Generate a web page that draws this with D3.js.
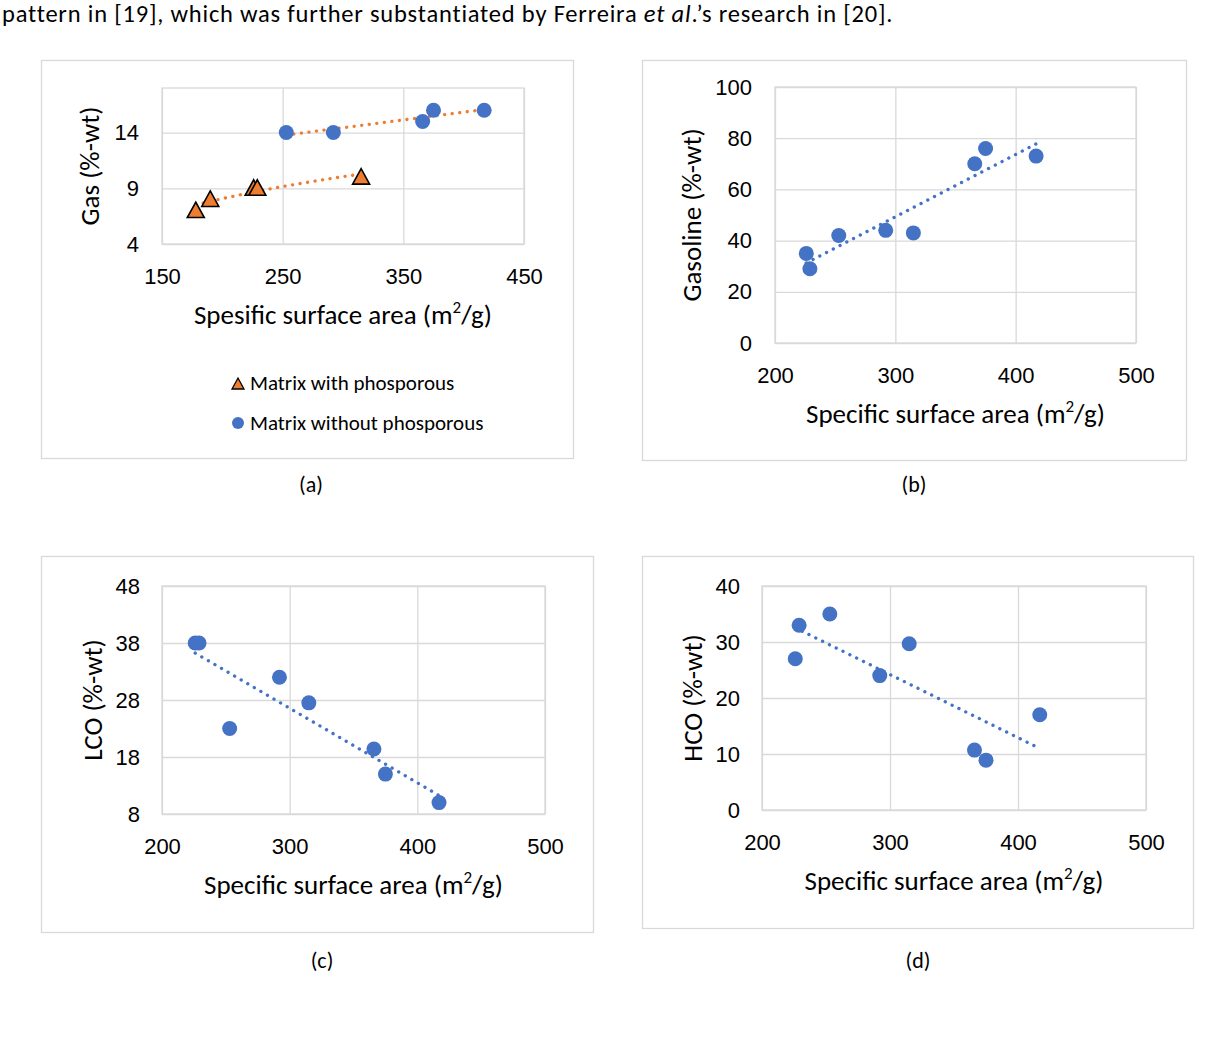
<!DOCTYPE html>
<html>
<head>
<meta charset="utf-8">
<script src="https://cdn.jsdelivr.net/npm/d3@7"></script>
<style>
  body { margin: 0; background: #fff; }
  svg { display: block; font-family: Carlito, Calibri, Lato, sans-serif; }
</style>
</head>
<body>
<svg id="chart" width="1225" height="1038"></svg>
<script>
// panel (a): gas yield, two catalyst matrices
var areaWithP = [178, 190, 226, 229, 315];
var gasWithP = [7, 8, 9, 9, 10];
var areaNoP = [253, 292, 366, 375, 417];
var gasNoP = [14, 14, 15, 16, 16];

// panels (b)-(d) share the surface area values
var area = [226, 229, 253, 292, 315, 366, 375, 417];
var gasoline = [35, 29, 42, 44, 43, 70, 76, 73];
var lco = [38, 38, 23, 32, 27.5, 19.4, 15, 10];
var hco = [27, 33, 35, 24, 29.7, 10.7, 8.9, 17];

// tick labels
var xTicksA = [150, 250, 350, 450];
var xTicks = [200, 300, 400, 500];
var gasTicks = [4, 9, 14];
var gasolineTicks = [0, 20, 40, 60, 80, 100];
var lcoTicks = [8, 18, 28, 38, 48];
var hcoTicks = [0, 10, 20, 30, 40];

var blue = "#4472C4", orange = "#ED7D31", grid = "#D9D9D9";

var svg = d3.select("#chart");
svg.append("rect").attr("width", 1225).attr("height", 1038).attr("fill", "#fff");

svg.append("text")
    .attr("x", 2)
    .attr("y", 22)
    .attr("font-size", 24.5)
    .attr("letter-spacing", 0.8)
    .attr("fill", "#000")
    .call(function(t) {
      t.append("tspan").text("pattern in [19], which was further substantiated by Ferreira ");
      t.append("tspan").attr("font-style", "italic").text("et al");
      t.append("tspan").text(".\u2019s research in [20].");
    });

// least squares, optional log transform of x (Excel-like trendlines)
function fit(xs, ys, isLog) {
  var tx = xs.map(function(v) { return isLog ? Math.log(v) : v; });
  var mx = d3.mean(tx), my = d3.mean(ys);
  var sxy = 0, sxx = 0;
  tx.forEach(function(v, i) { sxy += (v - mx) * (ys[i] - my); sxx += (v - mx) * (v - mx); });
  var b = sxy / sxx, a = my - b * mx;
  return function(v) { return a + b * (isLog ? Math.log(v) : v); };
}

function panel(p) {
  var g = svg.append("g");

  g.append("rect")
      .attr("x", p.frame[0] + 0.5).attr("y", p.frame[1] + 0.5)
      .attr("width", p.frame[2] - p.frame[0]).attr("height", p.frame[3] - p.frame[1])
      .attr("fill", "#fff").attr("stroke", grid).attr("stroke-width", 1.3);

  var x = d3.scaleLinear().domain(p.xDomain).range(p.xRange);
  var y = d3.scaleLinear().domain(p.yDomain).range(p.yRange);
  var w = p.xRange[1] - p.xRange[0], h = p.yRange[0] - p.yRange[1];

  // gridlines
  g.append("g")
      .attr("transform", "translate(0," + p.yRange[1] + ")")
      .call(d3.axisTop(x).tickValues(p.xTicks).tickSize(-h).tickFormat(""))
      .call(function(s) { s.select(".domain").remove(); s.selectAll("line").attr("stroke", grid).attr("stroke-width", 1.3); });
  g.append("g")
      .attr("transform", "translate(" + p.xRange[0] + ",0)")
      .call(d3.axisLeft(y).tickValues(p.yTicks).tickSize(-w).tickFormat(""))
      .call(function(s) { s.select(".domain").remove(); s.selectAll("line").attr("stroke", grid).attr("stroke-width", 1.3); });
  g.append("rect")
      .attr("x", p.xRange[0]).attr("y", p.yRange[1])
      .attr("width", w).attr("height", h)
      .attr("fill", "none").attr("stroke", grid).attr("stroke-width", 1.3);

  // tick labels
  g.append("g")
      .attr("transform", "translate(0," + p.yRange[0] + ")")
      .call(d3.axisBottom(x).tickValues(p.xTicks).tickSize(0).tickPadding(24))
      .call(function(s) {
        s.select(".domain").remove();
        s.selectAll("text").attr("font-size", 22).attr("font-family", null).attr("fill", "#000");
      });
  g.append("g")
      .attr("transform", "translate(" + p.xRange[0] + ",0)")
      .call(d3.axisLeft(y).tickValues(p.yTicks).tickSize(0).tickPadding(p.yPad))
      .call(function(s) {
        s.select(".domain").remove();
        s.selectAll("text").attr("font-size", 22).attr("font-family", null).attr("fill", "#000");
      });

  // axis titles
  g.append("text")
      .attr("x", (p.xRange[0] + p.xRange[1]) / 2)
      .attr("y", p.yRange[0] + 80)
      .attr("text-anchor", "middle")
      .attr("font-size", 27)
      .call(function(t) {
        t.append("tspan").text(p.xTitle + " (m");
        t.append("tspan").attr("font-size", 17).attr("dy", -11).text("2");
        t.append("tspan").attr("dy", 11).text("/g)");
      });
  g.append("text")
      .attr("transform", "translate(" + (p.xRange[0] - p.titleOff) + "," + ((p.yRange[0] + p.yRange[1]) / 2) + ") rotate(-90)")
      .attr("text-anchor", "middle")
      .attr("dy", "0.35em")
      .attr("font-size", 27)
      .text(p.yTitle);

  p.series.forEach(function(s) {
    var f = fit(s.x, s.y, s.log);
    var xs = d3.range(0, 41).map(function(i) { return d3.min(s.x) + (d3.max(s.x) - d3.min(s.x)) * i / 40; });
    g.append("path")
        .datum(xs)
        .attr("d", d3.line().x(function(v) { return x(v); }).y(function(v) { return y(f(v)); }))
        .attr("fill", "none")
        .attr("stroke", s.trend)
        .attr("stroke-width", 3.3)
        .attr("stroke-linecap", "round")
        .attr("stroke-dasharray", "0.1 7.5");
  });

  p.series.forEach(function(s) {
    var pts = s.x.map(function(v, i) { return [v, s.y[i]]; });
    if (s.shape == "triangle") {
      g.selectAll(null).data(pts).enter().append("path")
          .attr("transform", function(d) { return "translate(" + x(d[0]) + "," + y(d[1]) + ")"; })
          .attr("d", "M0,-8.5L8.5,7L-8.5,7Z")
          .attr("fill", orange).attr("stroke", "#000").attr("stroke-width", 1.6)
          .attr("stroke-linejoin", "miter");
    } else {
      g.selectAll(null).data(pts).enter().append("circle")
          .attr("cx", function(d) { return x(d[0]); })
          .attr("cy", function(d) { return y(d[1]); })
          .attr("r", 7.5)
          .attr("fill", blue);
    }
  });

  return g;
}

var ga = panel({
  frame: [41, 60, 573, 458],
  xDomain: [150, 450], xRange: [162, 524],
  yDomain: [4, 18], yRange: [244, 88],
  xTicks: xTicksA, yTicks: gasTicks, yPad: 23, titleOff: 72,
  xTitle: "Spesific surface area", yTitle: "Gas (%-wt)",
  series: [
    {x: areaNoP, y: gasNoP, shape: "circle", trend: orange, log: false},
    {x: areaWithP, y: gasWithP, shape: "triangle", trend: orange, log: true}
  ]
});

// legend of panel (a)
var legend = ga.append("g").attr("font-size", 21);
legend.append("path")
    .attr("transform", "translate(238,384)")
    .attr("d", "M0,-6L6,5L-6,5Z")
    .attr("fill", orange).attr("stroke", "#000").attr("stroke-width", 1.3);
legend.append("text").attr("x", 250).attr("y", 383).attr("dy", "0.35em").text("Matrix with phosporous");
legend.append("circle").attr("cx", 238).attr("cy", 423).attr("r", 6).attr("fill", blue);
legend.append("text").attr("x", 250).attr("y", 423).attr("dy", "0.35em").text("Matrix without phosporous");

panel({
  frame: [642, 60, 1186, 460],
  xDomain: [200, 500], xRange: [775, 1136],
  yDomain: [0, 100], yRange: [343, 87],
  xTicks: xTicks, yTicks: gasolineTicks, yPad: 23, titleOff: 83,
  xTitle: "Specific surface area", yTitle: "Gasoline (%-wt)",
  series: [{x: area, y: gasoline, shape: "circle", trend: blue, log: false}]
});

panel({
  frame: [41, 556, 593, 932],
  xDomain: [200, 500], xRange: [162, 545],
  yDomain: [8, 48], yRange: [814, 586],
  xTicks: xTicks, yTicks: lcoTicks, yPad: 22, titleOff: 69,
  xTitle: "Specific surface area", yTitle: "LCO (%-wt)",
  series: [{x: area, y: lco, shape: "circle", trend: blue, log: false}]
});

panel({
  frame: [642, 556, 1193, 928],
  xDomain: [200, 500], xRange: [762, 1146],
  yDomain: [0, 40], yRange: [810, 586],
  xTicks: xTicks, yTicks: hcoTicks, yPad: 22, titleOff: 69,
  xTitle: "Specific surface area", yTitle: "HCO (%-wt)",
  series: [{x: area, y: hco, shape: "circle", trend: blue, log: false}]
});

// sub-figure captions
var captions = [["(a)", 311, 484], ["(b)", 914, 484], ["(c)", 322, 960], ["(d)", 918, 960]];
svg.selectAll("text.cap")
    .data(captions)
  .enter().append("text")
    .attr("class", "cap")
    .attr("x", function(d) { return d[1]; })
    .attr("y", function(d) { return d[2]; })
    .attr("dy", "0.35em")
    .attr("text-anchor", "middle")
    .attr("font-size", 22)
    .text(function(d) { return d[0]; });
</script>
</body>
</html>
